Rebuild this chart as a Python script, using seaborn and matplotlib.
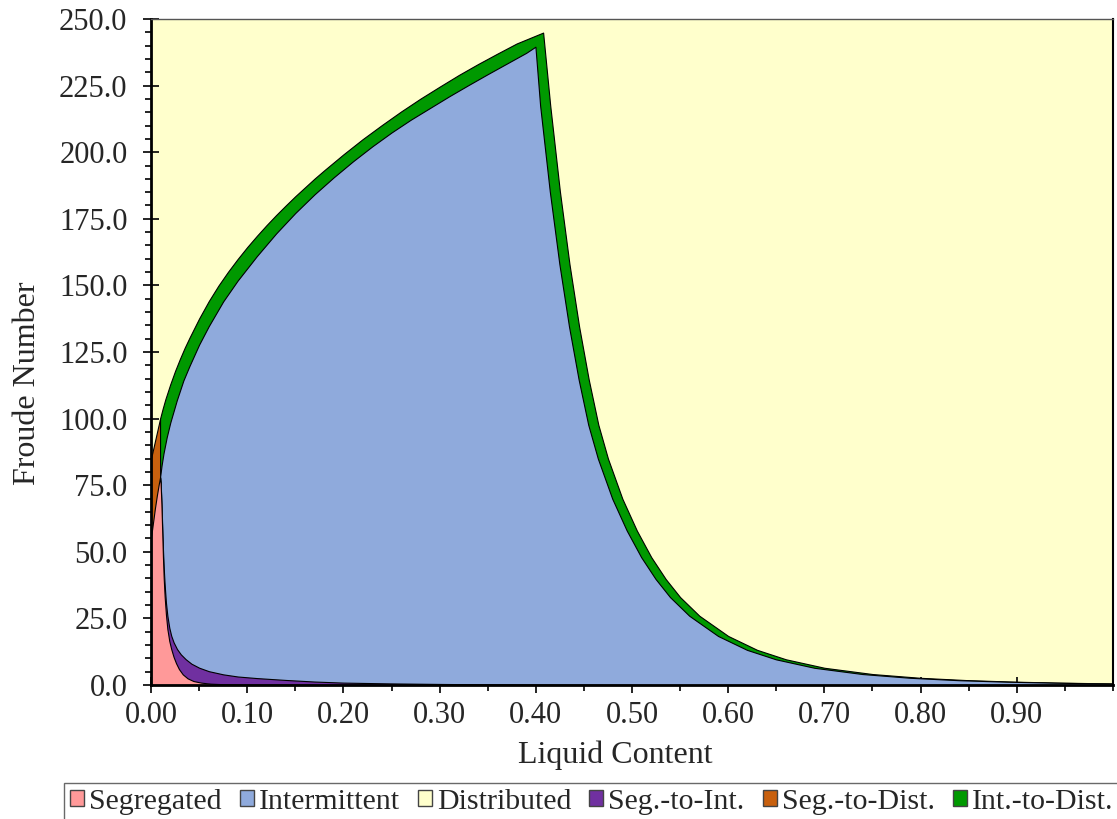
import numpy as np
import matplotlib
matplotlib.use("Agg")
import matplotlib.pyplot as plt
from matplotlib.patches import Patch
from matplotlib.ticker import MultipleLocator, FormatStrFormatter
import seaborn as sns

# boundary curves (liquid content vs Froude number)
# top of the Int.-to-Dist. band (border with Distributed)
x_id_top = [0.0094, 0.012, 0.015, 0.02, 0.025, 0.03, 0.035, 0.04, 0.05, 0.06,
            0.07, 0.08, 0.09, 0.10, 0.11, 0.12, 0.13, 0.14, 0.15, 0.16,
            0.17, 0.18, 0.20, 0.22, 0.24, 0.26, 0.28, 0.30, 0.32, 0.34,
            0.36, 0.38, 0.4076,
            0.415, 0.425, 0.435, 0.445, 0.455, 0.465, 0.475, 0.49, 0.505,
            0.52, 0.535, 0.55, 0.57, 0.60, 0.63, 0.66, 0.70, 0.75,
            0.80, 0.85, 0.90, 0.95, 1.0]
fr_id_top = [100, 103.6, 107.4, 112.9, 117.9, 122.4, 126.6, 130.4, 137.6, 144.1,
             149.9, 155.1, 159.9, 164.4, 168.6, 172.6, 176.4, 180.0, 183.5, 186.8,
             190.1, 193.2, 199.2, 204.9, 210.2, 215.3, 220.1, 224.6, 229.0, 233.1,
             237.0, 240.8, 244.9,
             217.5, 185.4, 158.0, 134.6, 114.7, 97.7, 85.0, 69.9, 58.0,
             48.0, 39.8, 33.0, 26.0, 18.4, 13.2, 9.65, 6.47, 4.12,
             2.70, 1.81, 1.24, 0.86, 0.59]

# top of Intermittent (border with Int.-to-Dist.)
x_int_top = [0.0094, 0.011, 0.013, 0.0163, 0.02, 0.0267, 0.0336, 0.04, 0.05, 0.06,
             0.075, 0.09, 0.11, 0.13, 0.15, 0.17, 0.19, 0.21, 0.23, 0.25,
             0.27, 0.29, 0.31, 0.33, 0.35, 0.37, 0.39, 0.3996,
             0.4045, 0.4145, 0.4245, 0.4345, 0.4445, 0.4545, 0.4645, 0.4795, 0.4945,
             0.5095, 0.5245, 0.5395, 0.5595, 0.5895, 0.6195, 0.6495, 0.6895, 0.7395,
             0.7895, 0.8395, 0.8895, 0.9395, 0.9895, 1.0]
fr_int_top = [78, 82.5, 87, 93, 98.5, 106.8, 114.3, 119.8, 127.8, 134.7,
              144.0, 151.8, 161.0, 169.5, 177.2, 184.2, 190.6, 196.6, 202.2, 207.4,
              212.2, 216.6, 221.0, 225.2, 229.3, 233.3, 237.3, 239.6,
              217.5, 185.4, 158.0, 134.6, 114.7, 97.7, 85.0, 69.9, 58.0,
              48.0, 39.8, 33.0, 26.0, 18.4, 13.2, 9.65, 6.47, 4.12,
              2.70, 1.81, 1.24, 0.86, 0.59, 0.55]

# top of Seg.-to-Int. (border with Intermittent)
x_si_top = [0.0094, 0.0100, 0.0108, 0.0116, 0.0124, 0.0132, 0.0142, 0.0155, 0.017,
            0.019, 0.021, 0.0235, 0.027, 0.031, 0.036, 0.042, 0.05, 0.06, 0.075,
            0.09, 0.11, 0.14, 0.17, 0.20, 0.25, 0.30, 0.35, 0.40, 0.52]
fr_si_top = [78, 76, 69, 60, 51, 44, 37.5, 31, 26,
             21.5, 18.5, 16, 13.5, 11.5, 9.7, 8.0, 6.5, 5.2, 4.0,
             3.2, 2.6, 1.9, 1.3, 0.9, 0.6, 0.4, 0.25, 0.15, 0.0]

# top of Segregated
x_seg_top = [0.0, 0.002, 0.004, 0.006, 0.008, 0.0094, 0.0100, 0.0108, 0.0116,
             0.0124, 0.0132, 0.0142, 0.0155, 0.017, 0.019, 0.021, 0.0235, 0.026,
             0.029, 0.033, 0.038, 0.044, 0.052, 0.062, 0.075, 0.10, 0.20, 0.40]
fr_seg_top = [55.4, 60.8, 66.2, 71.0, 75.3, 78, 75.5, 68, 58,
              48, 40, 33, 26.5, 21.0, 16.5, 13.5, 10.5, 8.2,
              6.0, 4.0, 2.5, 1.5, 0.9, 0.5, 0.3, 0.15, 0.05, 0.0]

# top of Seg.-to-Dist. (small wedge near zero liquid content)
x_sd_top = [0.0, 0.0047, 0.0094]
fr_sd_top = [85, 92.5, 100]

labels = ["Segregated", "Intermittent", "Distributed",
          "Seg.-to-Int.", "Seg.-to-Dist.", "Int.-to-Dist."]
colors = ["#FF9999", "#8FAADC", "#FFFFCC", "#7030A0", "#C8600E", "#009900"]

sns.set_theme(style="ticks")
plt.rcParams["font.family"] = ["Liberation Serif", "DejaVu Serif"]

fig = plt.figure(figsize=(11.17, 8.19), dpi=100)
ax = fig.add_axes([0.1352, 0.1636, 0.8612, 0.8132])
ax.set_facecolor(colors[2])

edge = dict(edgecolor="black", linewidth=0.8)
ax.fill_between(x_sd_top, 0, fr_sd_top, facecolor=colors[4], **edge)
ax.fill_between(x_id_top, 0, fr_id_top, facecolor=colors[5], **edge)
ax.fill_between(x_int_top, 0, fr_int_top, facecolor=colors[1], **edge)
ax.fill_between(x_si_top, 0, fr_si_top, facecolor=colors[3], **edge)
ax.fill_between(x_seg_top, 0, fr_seg_top, facecolor=colors[0], **edge)

ax.set_xlim(0, 1.0)
ax.set_ylim(0, 250)
ax.set_xticks(np.arange(0, 0.91, 0.1))
ax.xaxis.set_minor_locator(MultipleLocator(0.05))
ax.yaxis.set_major_locator(MultipleLocator(25))
ax.yaxis.set_minor_locator(MultipleLocator(5))
ax.xaxis.set_major_formatter(FormatStrFormatter("%.2f"))
ax.yaxis.set_major_formatter(FormatStrFormatter("%.1f"))

ax.tick_params(which="major", direction="inout", length=12, width=1.2,
               labelsize=22, color="black")
ax.tick_params(which="minor", direction="out", length=4.5, width=1.2, color="black")
ax.tick_params(axis="x", which="both", top=False, pad=5.5)
ax.tick_params(axis="y", which="both", right=False, pad=11)

for s in ["left", "bottom"]:
    ax.spines[s].set_linewidth(2)
    ax.spines[s].set_color("black")
ax.spines["top"].set_linewidth(1)
ax.spines["top"].set_color("#555555")
ax.spines["right"].set_linewidth(1.5)
ax.spines["right"].set_color("black")

ax.set_xlabel("Liquid Content", fontsize=23)
ax.set_ylabel("Froude Number", fontsize=23)
ax.xaxis.set_label_coords(0.483, -0.083)
ax.yaxis.set_label_coords(-0.113, 0.4535)

handles = [Patch(facecolor=c, edgecolor="#444444", linewidth=1) for c in colors]
leg = fig.legend(handles, labels, loc="lower right", bbox_to_anchor=(1.002, -0.002),
                 ncol=6, fontsize=21.5, frameon=True, fancybox=False,
                 edgecolor="#444444", handlelength=0.47, handleheight=0.47,
                 handletextpad=0.17, columnspacing=0.6, borderpad=0.2,
                 borderaxespad=0.0)
leg.get_frame().set_linewidth(1)

fig.savefig("out.png", dpi=100)
